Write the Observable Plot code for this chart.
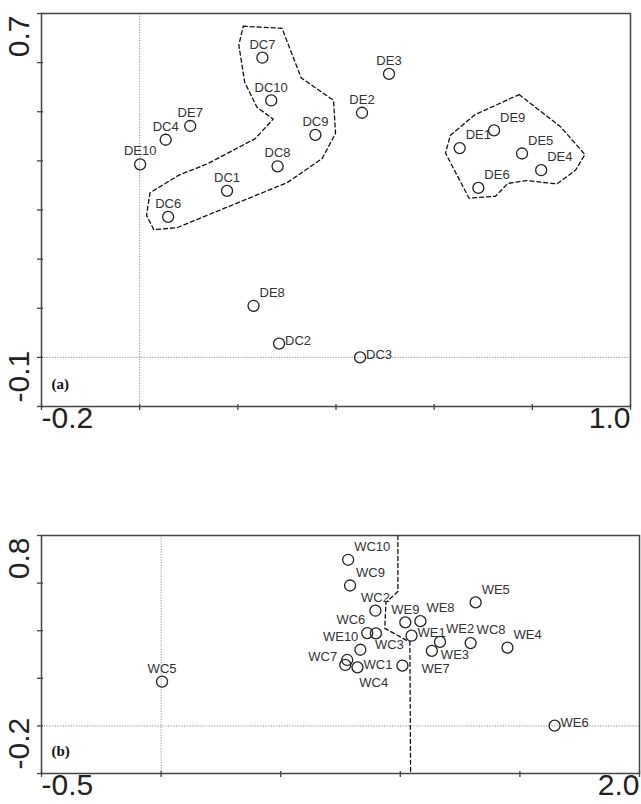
<!DOCTYPE html>
<html><head><meta charset="utf-8">
<script src="https://cdn.jsdelivr.net/npm/d3@7"></script>
<script src="https://cdn.jsdelivr.net/npm/@observablehq/plot@0.6"></script>
<style>
body{margin:0;background:#fff;}
#chart{width:641px;}
#chart svg{display:block;}
</style></head><body><div id="chart"></div>
<script>
// ---------- Panel (a) data ----------
const labelsA = ["DC1","DC2","DC3","DC4","DC6","DC7","DC8","DC9","DC10","DE1","DE2","DE3","DE4","DE5","DE6","DE7","DE8","DE9","DE10"];
const xA = [0.178,0.284,0.449,0.053,0.058,0.250,0.281,0.358,0.268,0.652,0.453,0.508,0.818,0.779,0.690,0.103,0.232,0.722,0.001];
const yA = [0.339,0.028,0.000,0.443,0.286,0.610,0.389,0.453,0.523,0.426,0.498,0.577,0.381,0.415,0.345,0.471,0.105,0.462,0.393];
const sideA = ["n","e","e","n","n","n","n","n","n","ne","n","n","ne","ne","ne","n","ne","ne","n"];
const hull1X = [0.211,0.290,0.329,0.395,0.399,0.372,0.301,0.076,0.029,0.014,0.021,0.080,0.138,0.235,0.272,0.239,0.214,0.202,0.211];
const hull1Y = [0.674,0.670,0.569,0.523,0.456,0.405,0.356,0.264,0.260,0.289,0.335,0.371,0.394,0.445,0.485,0.509,0.560,0.636,0.674];
const hull2X = [0.773,0.858,0.907,0.888,0.850,0.788,0.750,0.725,0.671,0.623,0.633,0.683,0.773];
const hull2Y = [0.535,0.469,0.413,0.381,0.353,0.360,0.354,0.328,0.324,0.416,0.452,0.494,0.535];
const xTicksA = [-0.2,0,0.2,0.4,0.6,0.8,1.0];
const yTicksA = [-0.1,0,0.1,0.2,0.3,0.4,0.5,0.6,0.7];
const xEndsA = [-0.2,1.0], xEndLabelsA = ["-0.2","1.0"];
const yEndsA = [-0.1,0.7], yEndLabelsA = ["-0.1","0.7"];

// ---------- Panel (b) data ----------
const labelsB = ["WC1","WC2","WC3","WC4","WC5","WC6","WC7","WC8","WC9","WC10","WE1","WE2","WE3","WE4","WE5","WE6","WE7","WE8","WE9","WE10"];
const xB = [0.821,0.896,0.898,0.770,0.004,0.862,0.778,1.294,0.790,0.782,1.047,1.166,1.132,1.448,1.315,1.645,1.009,1.084,1.021,0.833];
const yB = [0.246,0.484,0.389,0.256,0.186,0.390,0.277,0.348,0.590,0.698,0.379,0.353,0.315,0.329,0.519,0.001,0.253,0.440,0.435,0.320];
const sideB = ["e","n","s","sse","n","nw","w","ne","ne","ne","e","ne","se","ne","ne","e","ese","ne","n","nw"];
const dividerX = [0.990,0.990,0.940,0.935,1.040,1.043];
const dividerY = [0.800,0.565,0.519,0.410,0.352,-0.200];
const xTicksB = [-0.5,0,0.5,1.0,1.5,2.0];
const yTicksB = [-0.2,0,0.2,0.4,0.6,0.8];
const xEndsB = [-0.5,2.0], xEndLabelsB = ["-0.5","2.0"];
const yEndsB = [-0.2,0.8], yEndLabelsB = ["-0.2","0.8"];

// ---------- styling ----------
const SANS = "'Liberation Sans', Arial, Helvetica, sans-serif";
const SERIF = "'Liberation Serif', 'Times New Roman', serif";
const place = {
  n:   {textAnchor:"middle", dx:0,   dy:-13},
  ne:  {textAnchor:"start",  dx:6,   dy:-13},
  e:   {textAnchor:"start",  dx:6,   dy:-3},
  nw:  {textAnchor:"end",    dx:-2,  dy:-13},
  w:   {textAnchor:"end",    dx:-10, dy:-3},
  s:   {textAnchor:"start",  dx:-1,  dy:12},
  se:  {textAnchor:"start",  dx:9,   dy:4},
  ese: {textAnchor:"start",  dx:19,  dy:3},
  sse: {textAnchor:"start",  dx:14,  dy:18}
};

function panel(opts) {
  const pts = opts.labels.map((l,i)=>({label:l, x:opts.xs[i], y:opts.ys[i], side:opts.sides[i]}));
  const labelMarks = Object.keys(place).map(k =>
    Plot.text(pts.filter(d=>d.side===k), {x:"x", y:"y", text:"label", ...place[k], fontSize:13, fill:"#333", fontFamily:SANS}));
  const lineMarks = opts.lines.map(([lx,ly]) =>
    Plot.line(lx.map((v,i)=>({x:v, y:ly[i]})), {x:"x", y:"y", stroke:"#111", strokeWidth:1.3, strokeDasharray:"4,3"}));
  return Plot.plot({
    width:641, height:opts.height,
    marginLeft:41, marginRight:opts.mr, marginTop:opts.mt, marginBottom:opts.mb,
    x:{domain:opts.xd, axis:null},
    y:{domain:opts.yd, axis:null},
    style:{fontFamily:SANS, background:"white", overflow:"visible"},
    marks:[
      Plot.ruleX([0], {stroke:"#8c8c8c", strokeWidth:0.8, strokeDasharray:"1.5,1.2"}),
      Plot.ruleY([0], {stroke:"#8c8c8c", strokeWidth:0.8, strokeDasharray:"1.5,1.2"}),
      ...lineMarks,
      Plot.dot(pts, {x:"x", y:"y", r:5.5, stroke:"#222", strokeWidth:1.3, fill:"none"}),
      ...labelMarks,
      Plot.axisX(opts.xt, {tickSize:6, tickFormat:()=>"", label:null, stroke:"#444", strokeWidth:1.3, dy:-2}),
      Plot.axisY(opts.yt, {tickSize:6, tickFormat:()=>"", label:null, stroke:"#444", strokeWidth:1.3, dx:2}),
      Plot.frame({stroke:"#444", strokeWidth:1.5}),
      Plot.text([opts.xe[0]], {x:d=>d, frameAnchor:"bottom", text:()=>opts.xel[0], textAnchor:"start", lineAnchor:"top", dy:0, fontSize:30, fill:"#222"}),
      Plot.text([opts.xe[1]], {x:d=>d, frameAnchor:"bottom", text:()=>opts.xel[1], textAnchor:"end", lineAnchor:"top", dy:0, fontSize:30, fill:"#222"}),
      Plot.text([opts.ye[1]], {y:d=>d, frameAnchor:"left", text:()=>opts.yel[1], rotate:-90, textAnchor:"end", lineAnchor:"middle", dx:-22, dy:2, fontSize:30, fill:"#222"}),
      Plot.text([opts.ye[0]], {y:d=>d, frameAnchor:"left", text:()=>opts.yel[0], rotate:-90, textAnchor:"start", lineAnchor:"middle", dx:-22, dy:-4, fontSize:30, fill:"#222"}),
      Plot.text([opts.tag], {frameAnchor:"bottom-left", text:d=>d, textAnchor:"start", dx:10, dy:-18, fontFamily:SERIF, fontWeight:"bold", fontSize:15, fill:"#111"})
    ]
  });
}

const chart = document.getElementById("chart");
chart.appendChild(panel({
  labels:labelsA, xs:xA, ys:yA, sides:sideA,
  lines:[[hull1X,hull1Y],[hull2X,hull2Y]],
  height:450, mr:11, mt:13, mb:44,
  xd:[-0.2,1.0], yd:[-0.1,0.7], xt:xTicksA, yt:yTicksA,
  xe:xEndsA, xel:xEndLabelsA, ye:yEndsA, yel:yEndLabelsA, tag:"(a)"
}));
chart.appendChild(panel({
  labels:labelsB, xs:xB, ys:yB, sides:sideB,
  lines:[[dividerX,dividerY]],
  height:354, mr:2, mt:85, mb:31,
  xd:[-0.5,2.0], yd:[-0.2,0.8], xt:xTicksB, yt:yTicksB,
  xe:xEndsB, xel:xEndLabelsB, ye:yEndsB, yel:yEndLabelsB, tag:"(b)"
}));
</script></body></html>
